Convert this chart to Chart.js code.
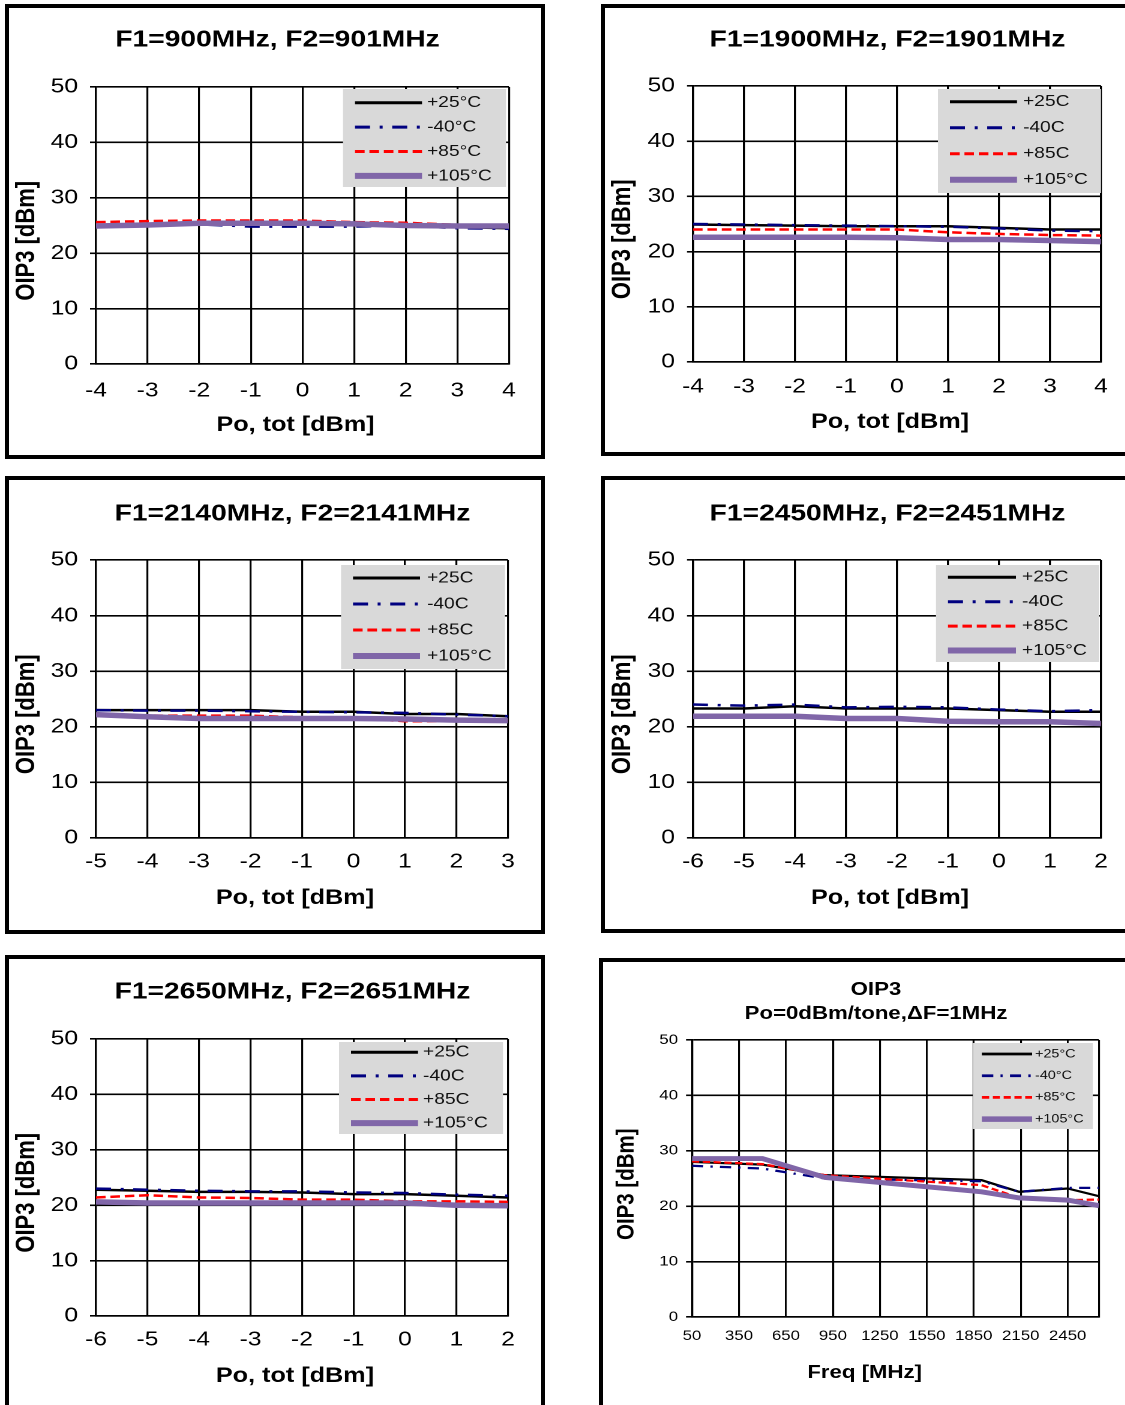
<!DOCTYPE html>
<html>
<head>
<meta charset="utf-8">
<script src="https://cdn.jsdelivr.net/npm/chart.js@4.4.1/dist/chart.umd.min.js"></script>
<style>
  html, body { margin: 0; padding: 0; background: #fff; }
  body { width: 1125px; height: 1405px; overflow: hidden; position: relative; }
  .panel { position: absolute; border: 4px solid #000; box-sizing: border-box; background: #fff; overflow: hidden; }
  .stretch { position: absolute; left: 0; top: 0; transform-origin: 0 0; transform: scaleX(1.2); }
  .stretch canvas { display: block; }
</style>
</head>
<body>
<script>
// the source sheet is squashed sideways, so every chart is drawn narrow and stretched by S
const S = 1.2;

// ---- data ----
const labelsDeg = ["+25°C", "-40°C", "+85°C", "+105°C"];
const labelsC   = ["+25C", "-40C", "+85C", "+105°C"];
const yTicks = [0, 10, 20, 30, 40, 50];
const freqTicks = [50, 350, 650, 950, 1250, 1550, 1850, 2150, 2450];

const po900 = [-4, -3, -2, -1, 0, 1, 2, 3, 4];
const oip900_p25  = [25.0, 25.3, 25.5, 25.5, 25.4, 25.3, 25.1, 24.7, 24.5];
const oip900_m40  = [24.9, 25.2, 25.2, 24.8, 24.8, 24.8, 25.0, 24.5, 24.4];
const oip900_p85  = [25.6, 25.8, 25.9, 25.9, 25.9, 25.6, 25.5, 25.1, 24.9];
const oip900_p105 = [24.9, 25.1, 25.4, 25.4, 25.4, 25.3, 25.0, 24.9, 24.9];

const po1900 = [-4, -3, -2, -1, 0, 1, 2, 3, 4];
const oip1900_p25  = [24.9, 24.8, 24.7, 24.6, 24.6, 24.6, 24.3, 24.0, 24.0];
const oip1900_m40  = [25.0, 24.9, 24.8, 24.7, 24.6, 24.5, 24.2, 23.8, 23.7];
const oip1900_p85  = [24.0, 24.0, 24.0, 24.0, 24.0, 23.5, 23.2, 23.0, 22.9];
const oip1900_p105 = [22.6, 22.6, 22.6, 22.6, 22.5, 22.2, 22.2, 22.0, 21.8];

const po2140 = [-5, -4, -3, -2, -1, 0, 1, 2, 3];
const oip2140_p25  = [23.0, 23.0, 23.0, 23.0, 22.7, 22.7, 22.3, 22.3, 21.9];
const oip2140_m40  = [23.0, 22.9, 22.9, 22.8, 22.7, 22.6, 22.5, 22.2, 21.9];
const oip2140_p85  = [22.3, 22.0, 22.0, 22.0, 21.7, 21.6, 21.0, 21.0, 21.2];
const oip2140_p105 = [22.2, 21.8, 21.5, 21.5, 21.5, 21.5, 21.4, 21.2, 21.1];

const po2450 = [-6, -5, -4, -3, -2, -1, 0, 1, 2];
const oip2450_p25  = [23.3, 23.3, 23.7, 23.3, 23.3, 23.3, 23.0, 22.7, 22.7];
const oip2450_m40  = [24.0, 23.8, 24.0, 23.5, 23.6, 23.5, 23.1, 22.8, 23.0];
const oip2450_p85  = [22.0, 22.0, 22.0, 21.5, 21.5, 21.2, 21.0, 21.0, 20.5];
const oip2450_p105 = [21.9, 21.9, 21.9, 21.5, 21.5, 21.0, 20.9, 20.9, 20.6];

const po2650 = [-6, -5, -4, -3, -2, -1, 0, 1, 2];
const oip2650_p25  = [22.8, 22.6, 22.4, 22.4, 22.3, 22.0, 22.0, 21.7, 21.4];
const oip2650_m40  = [23.0, 22.8, 22.6, 22.5, 22.5, 22.3, 22.2, 21.9, 21.7];
const oip2650_p85  = [21.4, 21.8, 21.4, 21.3, 21.0, 21.0, 20.7, 20.7, 20.6];
const oip2650_p105 = [20.6, 20.4, 20.4, 20.4, 20.4, 20.4, 20.4, 20.0, 19.9];

const freq = [50, 500, 900, 1900, 2140, 2450, 2650];
const oipF_p25  = [28.0, 27.5, 25.6, 24.7, 22.6, 23.2, 21.8];
const oipF_m40  = [27.3, 26.8, 25.0, 24.5, 22.6, 23.3, 23.3];
const oipF_p85  = [28.1, 27.6, 25.6, 23.8, 21.5, 21.1, 21.2];
const oipF_p105 = [28.6, 28.6, 25.2, 22.6, 21.5, 21.1, 20.1];

// line look of the four temperatures
const seriesStyle = [
  { color: "#000000", width: 2.5, dash: [] },
  { color: "#000080", width: 2.5, dash: [12.5, 8, 2.5, 8] },
  { color: "#ff0000", width: 2.5, dash: [8, 4] },
  { color: "#8066a8", width: 5.5, dash: [] },
];

const bigFont   = { title: 23.5, titleLH: 1.2, tick: 20.5, xTitle: 21, yTitle: 22, legend: 16, dash: 1, width: 1 };
const smallFont = { title: 18.5, titleLH: 1.3, tick: 14, xTitle: 18.5, yTitle: 20.5, legend: 12, dash: 0.75, width: 0.9 };

// geometry is in page pixels; legend = [left, top, right, bottom, firstRowY, rowGap, lineL, lineR, textX]
// yPad / xPad: trailing spaces that nudge the axis titles off-centre like on the sheet
const panels = [
  { title: ["F1=900MHz, F2=901MHz"], x: po900, xMin: -4, xMax: 4, xTitle: "Po, tot [dBm]",
    series: [oip900_p25, oip900_m40, oip900_p85, oip900_p105], labels: labelsDeg, f: bigFont, yPad: 5, xPad: 2,
    box: [5, 4, 540, 455], plot: [96, 87, 509, 364], titleX: 277.5, titleY: 40, xTickY: 391, xTitleY: 425, yTitleX: 27, yLabelR: 78,
    legend: [343, 89, 506, 187, 102.7, 24.4, 355, 422, 427] },
  { title: ["F1=1900MHz, F2=1901MHz"], x: po1900, xMin: -4, xMax: 4, xTitle: "Po, tot [dBm]",
    series: [oip1900_p25, oip1900_m40, oip1900_p85, oip1900_p105], labels: labelsC, f: bigFont, yPad: 5, xPad: 2,
    box: [601, 4, 540, 452], plot: [693, 86, 1101, 362], titleX: 887.5, titleY: 40, xTickY: 387, xTitleY: 422, yTitleX: 623, yLabelR: 675,
    legend: [938, 89, 1101, 193, 101.7, 26, 950, 1017, 1023] },
  { title: ["F1=2140MHz, F2=2141MHz"], x: po2140, xMin: -5, xMax: 3, xTitle: "Po, tot [dBm]",
    series: [oip2140_p25, oip2140_m40, oip2140_p85, oip2140_p105], labels: labelsC, f: bigFont, yPad: 5, xPad: 2,
    box: [5, 476, 540, 458], plot: [96, 560, 508, 838], titleX: 292.5, titleY: 514, xTickY: 862, xTitleY: 898, yTitleX: 27, yLabelR: 78,
    legend: [341, 565, 505, 669, 578, 26, 353, 420, 427] },
  { title: ["F1=2450MHz, F2=2451MHz"], x: po2450, xMin: -6, xMax: 2, xTitle: "Po, tot [dBm]",
    series: [oip2450_p25, oip2450_m40, oip2450_p85, oip2450_p105], labels: labelsC, f: bigFont, yPad: 5, xPad: 2,
    box: [601, 476, 540, 457], plot: [693, 560, 1101, 838], titleX: 887.5, titleY: 514, xTickY: 862, xTitleY: 898, yTitleX: 623, yLabelR: 675,
    legend: [936, 565, 1099, 662, 577.3, 24.4, 948, 1016, 1022] },
  { title: ["F1=2650MHz, F2=2651MHz"], x: po2650, xMin: -6, xMax: 2, xTitle: "Po, tot [dBm]",
    series: [oip2650_p25, oip2650_m40, oip2650_p85, oip2650_p105], labels: labelsC, f: bigFont, yPad: 5, xPad: 2,
    box: [5, 955, 540, 460], plot: [96, 1039, 508, 1316], titleX: 292.5, titleY: 992, xTickY: 1340, xTitleY: 1376, yTitleX: 27, yLabelR: 78,
    legend: [339, 1042, 503, 1134, 1052.3, 23.6, 351, 418, 423] },
  { title: ["OIP3", "Po=0dBm/tone,ΔF=1MHz"], x: freq, xMin: 50, xMax: 2650, xTitle: "Freq [MHz]", freqAxis: true,
    series: [oipF_p25, oipF_m40, oipF_p85, oipF_p105], labels: labelsDeg, f: smallFont, yPad: 2, xPad: 10,
    box: [599, 958, 540, 460], plot: [692, 1040, 1099, 1317], titleX: 876, titleY: 990, xTickY: 1336, xTitleY: 1373, yTitleX: 627, yLabelR: 678,
    legend: [973, 1043, 1093, 1129, 1054, 21.7, 982, 1032, 1035] },
];

Chart.defaults.font.family = '"Liberation Sans", Arial, sans-serif';
Chart.defaults.color = "#000";

// grey legend box inside the plot, drawn from the datasets' own styles
const boxLegend = {
  id: "boxLegend",
  afterDraw(chart, args, o) {
    const ctx = chart.ctx;
    ctx.save();
    ctx.fillStyle = "#d9d9d9";
    ctx.fillRect(o.l, o.t, o.r - o.l, o.b - o.t);
    ctx.font = o.size + 'px "Liberation Sans", Arial, sans-serif';
    ctx.textBaseline = "middle";
    chart.data.datasets.forEach((ds, i) => {
      const y = o.row0 + i * o.gap;
      ctx.strokeStyle = ds.borderColor;
      ctx.lineWidth = ds.borderWidth + 0.5;
      ctx.setLineDash(ds.borderDash);
      ctx.beginPath();
      ctx.moveTo(o.lineL, y);
      ctx.lineTo(o.lineR, y);
      ctx.stroke();
      ctx.setLineDash([]);
      ctx.fillStyle = "#111";
      ctx.fillText(ds.label, o.textX, y);
    });
    ctx.restore();
  },
};

// the sheet's titles are not centred on the plot, so slide the title block over
const titleShift = {
  id: "titleShift",
  afterLayout(chart, args, o) {
    const t = chart.titleBlock;
    if (!t) return;
    const dx = o.x - (t.left + t.right) / 2;
    t.left += dx;
    t.right += dx;
  },
};

function buildPanel(p) {
  const [bx, by, bw, bh] = p.box;
  const ix = bx + 4, iy = by + 4;
  const W = (bw - 8) / S, H = bh - 8;
  const lx = (X) => (X - ix) / S, ly = (Y) => Y - iy;

  const div = document.createElement("div");
  div.className = "panel";
  Object.assign(div.style, { left: bx + "px", top: by + "px", width: bw + "px", height: bh + "px" });
  const wrap = document.createElement("div");
  wrap.className = "stretch";
  Object.assign(wrap.style, { width: W + "px", height: H + "px" });
  const canvas = document.createElement("canvas");
  wrap.appendChild(canvas);
  div.appendChild(wrap);
  document.body.appendChild(div);

  const f = p.f;
  const plotL = lx(p.plot[0]), plotT = ly(p.plot[1]), plotR = lx(p.plot[2]), plotB = ly(p.plot[3]);
  const tLH = f.title * f.titleLH;
  const padT = ly(p.titleY) - tLH / 2;
  const titleGap = plotT - padT - tLH * p.title.length;
  const padR = W - plotR;
  const padL = Math.max(0, lx(p.yTitleX) - f.yTitle * 1.2 / 2);
  const yTitlePad = lx(p.yTitleX) - f.yTitle * 1.2 / 2 - padL;
  const padB = H - (ly(p.xTitleY) + f.xTitle * 1.2 / 2);
  const xTickPad = ly(p.xTickY) - plotB - f.tick * 1.2 / 2;
  const yTickLen = 5;
  const yTickPad = plotL - lx(p.yLabelR) - yTickLen;
  const lg = p.legend;

  const datasets = p.series.map((vals, i) => ({
    label: p.labels[i],
    data: p.x.map((x, j) => ({ x: x, y: vals[j] })),
    borderColor: seriesStyle[i].color,
    borderWidth: seriesStyle[i].width * f.width,
    borderDash: seriesStyle[i].dash.map((d) => d * f.dash),
    borderCapStyle: "butt",
    pointRadius: 0,
    tension: 0,
    fill: false,
    order: 3 - i,
  }));

  const xTicks = {
    font: { size: f.tick },
    color: "#000",
    padding: xTickPad,
    maxRotation: 0,
    autoSkip: false,
  };
  if (p.freqAxis) xTicks.callback = (v) => (freqTicks.includes(v) ? String(v) : "");
  else xTicks.stepSize = 1;

  new Chart(canvas, {
    type: "line",
    data: { datasets },
    plugins: [boxLegend, titleShift],
    options: {
      responsive: true,
      maintainAspectRatio: false,
      animation: false,
      devicePixelRatio: 2,
      layout: { padding: { left: padL, right: padR, top: padT, bottom: padB } },
      plugins: {
        legend: { display: false },
        tooltip: { enabled: false },
        title: {
          display: true,
          text: p.title,
          color: "#000",
          font: { size: f.title, weight: "bold", lineHeight: f.titleLH },
          padding: { top: 0, bottom: titleGap },
        },
        titleShift: { x: lx(p.titleX) },
        boxLegend: {
          l: lx(lg[0]), t: ly(lg[1]), r: lx(lg[2]), b: ly(lg[3]),
          row0: ly(lg[4]), gap: lg[5], lineL: lx(lg[6]), lineR: lx(lg[7]), textX: lx(lg[8]),
          size: f.legend,
        },
      },
      scales: {
        x: {
          type: "linear",
          min: p.xMin,
          max: p.xMax,
          afterBuildTicks: p.freqAxis
            ? (s) => { s.ticks = freqTicks.concat([p.xMax]).map((v) => ({ value: v })); }
            : undefined,
          afterFit: (s) => { s.height = (H - padB) - plotB; },
          grid: { color: "#000", lineWidth: 1.6, drawTicks: false },
          border: { color: "#000", width: 1.6 },
          ticks: xTicks,
          title: {
            display: true,
            text: p.xTitle + " ".repeat(p.xPad),
            color: "#000",
            font: { size: f.xTitle, weight: "bold" },
            padding: { top: 0, bottom: 0 },
          },
        },
        y: {
          min: 0,
          max: 50,
          afterBuildTicks: (s) => { s.ticks = yTicks.map((v) => ({ value: v })); },
          afterFit: (s) => { s.width = plotL - padL; },
          grid: { color: "#000", lineWidth: 1.6, drawTicks: true, tickLength: yTickLen },
          border: { color: "#000", width: 1.6 },
          ticks: { font: { size: f.tick }, color: "#000", padding: yTickPad },
          title: {
            display: true,
            text: "OIP3 [dBm]" + " ".repeat(p.yPad),
            color: "#000",
            font: { size: f.yTitle, weight: "bold" },
            padding: { top: yTitlePad, bottom: 0 },
          },
        },
      },
    },
  });
}

panels.forEach(buildPanel);
</script>
</body>
</html>
